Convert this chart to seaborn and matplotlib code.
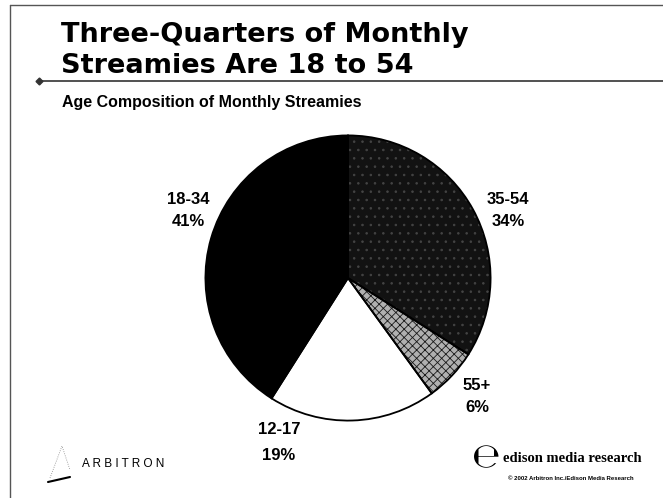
import matplotlib
matplotlib.use("Agg")
import matplotlib.pyplot as plt
import seaborn as sns

# age groups, clockwise from 12 o'clock
groups = ["35-54", "55+", "12-17", "18-34"]
shares = [34, 6, 19, 41]
fills = ["#121212", "#b0b0b0", "#ffffff", "#000000"]
hatches = ["..", "xxxx", "", ""]
hatch_colors = ["#444444", "#1a1a1a", "white", "black"]

title_lines = ["Three-Quarters of Monthly", "Streamies Are 18 to 54"]
subtitle = "Age Composition of Monthly Streamies"

sns.set_theme(style="white")
plt.rcParams["font.family"] = ["Liberation Sans", "DejaVu Sans"]
plt.rcParams["text.color"] = "black"
plt.rcParams["hatch.linewidth"] = 0.6

W, H = 663, 498
fig = plt.figure(figsize=(W / 100, H / 100), dpi=100)
fig.patch.set_facecolor("white")

# pie axes placed in pixel terms
cx, cy, r = 348, 278, 144
ax = fig.add_axes([(cx - r) / W, (H - cy - r) / H, 2 * r / W, 2 * r / H])
wedges, _ = ax.pie(shares, colors=fills, startangle=90, counterclock=False,
                   wedgeprops=dict(linewidth=0))
for w, h, hc in zip(wedges, hatches, hatch_colors):
    w.set_edgecolor(hc)
    w.set_linewidth(0)
    if h:
        w.set_hatch(h)
# outline on top
ax.pie(shares, colors=fills, startangle=90, counterclock=False,
       wedgeprops=dict(fill=False, edgecolor="black", linewidth=1.3))
ax.set_aspect("auto")
ax.set_xlim(-1.01, 1.01)
ax.set_ylim(-1.01, 1.01)
ax.axis("off")


def px(x, y):
    return x / W, 1 - y / H


# slice labels: (x centre, y of group line, y of percent line)
label_pos = {"18-34": (188, 199, 222), "35-54": (508, 199, 222),
             "55+": (477, 385, 408), "12-17": (279, 430, 455)}
for g, s in zip(groups, shares):
    x, y1, y2 = label_pos[g]
    fig.text(*px(x, y1), g, ha="center", va="center", fontsize=12, fontweight="bold")
    fig.text(*px(x, y2), f"{s}%", ha="center", va="center", fontsize=12, fontweight="bold")

# title and subtitle
for line, base in zip(title_lines, [42, 73]):
    fig.text(*px(61, base), line, ha="left", va="baseline", fontsize=19.5,
             fontweight="bold", family=["DejaVu Sans"])
fig.text(*px(62, 107), subtitle, ha="left", va="baseline", fontsize=11.5,
         fontweight="bold")

# frame and rule lines
fig.add_artist(plt.Line2D([10 / W, 10 / W], [0, 1 - 5 / H], color="#555555", lw=1))
fig.add_artist(plt.Line2D([10 / W, 1], [1 - 5 / H, 1 - 5 / H], color="#555555", lw=1))
fig.add_artist(plt.Line2D([38 / W, 1], [1 - 81 / H, 1 - 81 / H], color="#333333", lw=1.2))
fig.add_artist(plt.Line2D([39 / W], [1 - 81 / H], marker="D", markersize=3.5, color="#333333"))

# footer logos
fig.text(*px(82, 467), "A R B I T R O N", ha="left", va="baseline", fontsize=8.5)
fig.add_artist(plt.Line2D([48 / W, 70 / W], [1 - 482 / H, 1 - 477 / H], color="black", lw=1.5))
fig.add_artist(plt.Line2D([50 / W, 62 / W, 70 / W], [1 - 478 / H, 1 - 446 / H, 1 - 470 / H],
                          color="#888888", lw=0.6, ls=":"))
fig.text(*px(503, 462), "edison media research", ha="left", va="baseline", fontsize=10.5,
         fontweight="bold", family=["Liberation Serif", "DejaVu Serif"])
fig.text(*px(508, 480), "\u00a9 2002 Arbitron Inc./Edison Media Research", ha="left",
         va="baseline", fontsize=4.3, fontweight="bold")
fig.text(*px(486, 458), "\u212e", ha="center", va="center", fontsize=24,
         family=["DejaVu Sans"])

fig.savefig("out.png", dpi=100)
